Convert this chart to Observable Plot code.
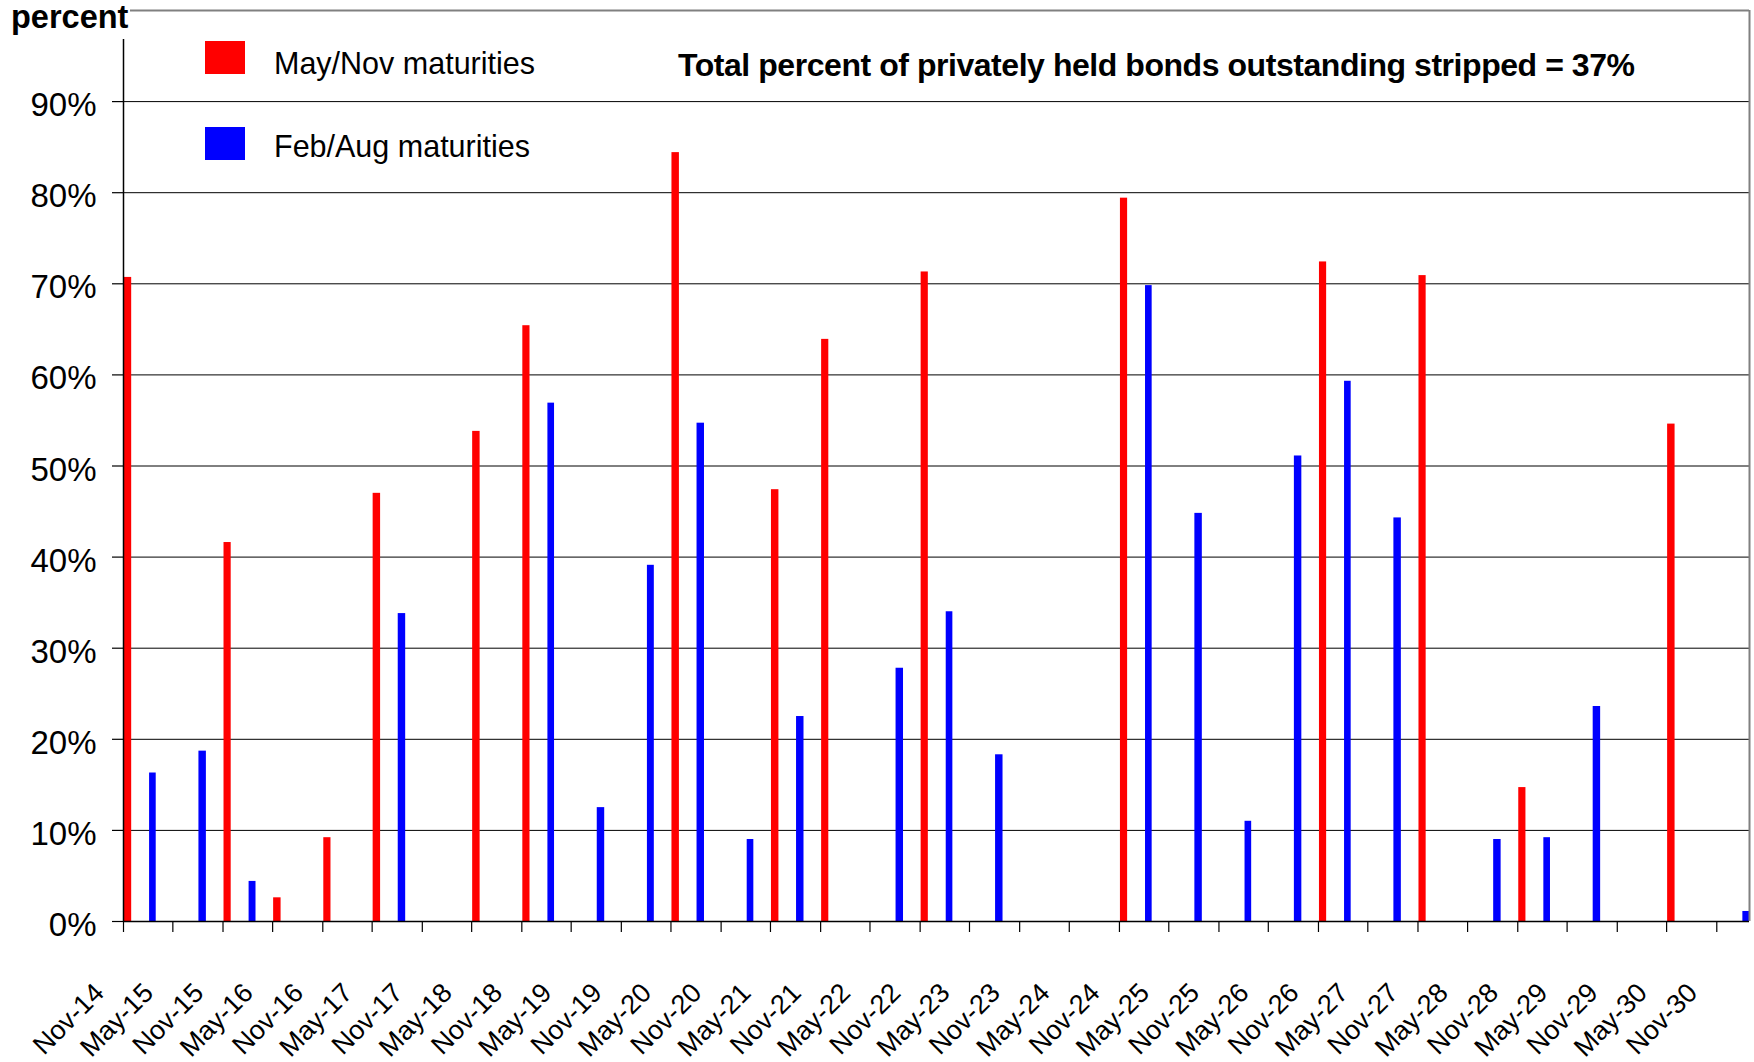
<!DOCTYPE html>
<html>
<head>
<meta charset="utf-8">
<script src="https://cdn.jsdelivr.net/npm/d3@7"></script>
<script src="https://cdn.jsdelivr.net/npm/@observablehq/plot@0.6"></script>
<style>
html, body { margin: 0; padding: 0; background: #fff; }
#wrap { position: relative; width: 1754px; height: 1062px; font-family: "Liberation Sans", Arial, sans-serif; overflow: hidden; }
#wrap svg { position: absolute; left: 0; top: 0; }
.ov { position: absolute; white-space: nowrap; line-height: 1; color: #000; }
</style>
</head>
<body>
<div id="wrap"></div>
<script>
// ---- data ----
const mayNovMaturities = ["Nov-14","Nov-15","May-16","Nov-16","May-17","May-18","Nov-18","May-20","May-21","Nov-21","Nov-22","Nov-24","Nov-26","Nov-27","Nov-28","May-30"];
const mayNovPercent    = [70.7, 41.6, 2.6, 9.2, 47.0, 53.8, 65.4, 84.4, 47.4, 63.9, 71.3, 79.4, 72.4, 70.9, 14.7, 54.6];

const febAugMaturities = ["Feb-15","Aug-15","Feb-16","Aug-17","Feb-19","Aug-19","Feb-20","Aug-20","Feb-21","Aug-21","Aug-22","Feb-23","Aug-23","Feb-25","Aug-25","Feb-26","Aug-26","Feb-27","Aug-27","Aug-28","Feb-29","Aug-29","Feb-31"];
const febAugPercent    = [16.3, 18.7, 4.4, 33.8, 56.9, 12.5, 39.1, 54.7, 9.0, 22.5, 27.8, 34.0, 18.3, 69.8, 44.8, 11.0, 51.1, 59.3, 44.3, 9.0, 9.2, 23.6, 1.1];

const seriesNames = ["May/Nov maturities", "Feb/Aug maturities"];
const seriesColors = ["#ff0000", "#0000ff"];

const xTickLabels = ["Nov-14","May-15","Nov-15","May-16","Nov-16","May-17","Nov-17","May-18","Nov-18","May-19","Nov-19","May-20","Nov-20","May-21","Nov-21","May-22","Nov-22","May-23","Nov-23","May-24","Nov-24","May-25","Nov-25","May-26","Nov-26","May-27","Nov-27","May-28","Nov-28","May-29","Nov-29","May-30","Nov-30"];
const xDomainLabels = ["Nov-14", "Mar-31"];
const yTickValues = [0, 10, 20, 30, 40, 50, 60, 70, 80, 90];
const yDomain = [0, 100];

const yLabelText = "percent";
const noteText = "Total percent of privately held bonds outstanding stripped = 37%";

// ---- build tables ----
const parse = d3.utcParse("%b-%y");
const bars = [
  ...mayNovMaturities.map((m, i) => ({date: parse(m), value: mayNovPercent[i], series: seriesNames[0]})),
  ...febAugMaturities.map((m, i) => ({date: parse(m), value: febAugPercent[i], series: seriesNames[1]}))
];
const xTicks = xTickLabels.map(l => ({date: parse(l), label: l}));
const xStart = parse(xDomainLabels[0]);
const xEnd = parse(xDomainLabels[1]);

const FONT = '"Liberation Sans", Arial, sans-serif';

const chart = Plot.plot({
  width: 1754,
  height: 1062,
  marginLeft: 123,
  marginRight: 5,
  marginTop: 10,
  marginBottom: 141,
  style: {fontFamily: FONT, background: "white", color: "black", overflow: "visible"},
  x: {type: "utc", domain: [xStart, xEnd]},
  y: {domain: yDomain},
  color: {domain: seriesNames, range: seriesColors},
  marks: [
    Plot.gridY({ticks: yTickValues.filter(v => v > 0), stroke: "black", strokeOpacity: 1, strokeWidth: 1}),
    Plot.rectY(bars, {x: "date", y: "value", interval: d3.utcMonth, fill: "series"}),
    Plot.ruleY([yDomain[1]], {stroke: "#808080", strokeWidth: 2}),
    Plot.ruleX([xEnd], {stroke: "#808080", strokeWidth: 2}),
    Plot.ruleY([0], {stroke: "black", strokeWidth: 1.5}),
    Plot.ruleX([xStart], {stroke: "black", strokeWidth: 1.5}),
    Plot.axisY({ticks: yTickValues, tickSize: 11, fill: "none", label: null, stroke: "black", strokeWidth: 1.2}),
    Plot.text(yTickValues, {y: d => d, text: d => d + "%", frameAnchor: "left", textAnchor: "end", lineAnchor: "middle", dx: -27, dy: 4, fontSize: 33, fill: "black"}),
    Plot.axisX({ticks: xTicks.map(t => t.date), tickSize: 11, fill: "none", label: null, stroke: "black", strokeWidth: 1.2}),
    Plot.text(xTicks, {x: "date", text: "label", frameAnchor: "bottom", rotate: -45, textAnchor: "end", lineAnchor: "bottom", dx: -18, dy: 73, fontSize: 27, fill: "black"})
  ]
});

const wrap = document.getElementById("wrap");
wrap.appendChild(chart);

function addDiv(style, text) {
  const d = document.createElement("div");
  d.className = "ov";
  Object.assign(d.style, style);
  if (text != null) d.textContent = text;
  wrap.appendChild(d);
  return d;
}

// white box behind the "percent" label (covers axis top like the original)
addDiv({left: "0px", top: "0px", width: "130px", height: "39px", background: "#fff"});
addDiv({left: "11px", top: "1px", fontSize: "32.5px", fontWeight: "bold"}, yLabelText);

// legend
addDiv({left: "205px", top: "41px", width: "40px", height: "33px", background: seriesColors[0]});
addDiv({left: "205px", top: "127px", width: "40px", height: "33px", background: seriesColors[1]});
addDiv({left: "274px", top: "48px", fontSize: "30.5px"}, seriesNames[0]);
addDiv({left: "274px", top: "131px", fontSize: "30.5px"}, seriesNames[1]);

// note
addDiv({left: "678px", top: "49px", fontSize: "32px", fontWeight: "bold", letterSpacing: "-0.45px"}, noteText);
</script>
</body>
</html>
